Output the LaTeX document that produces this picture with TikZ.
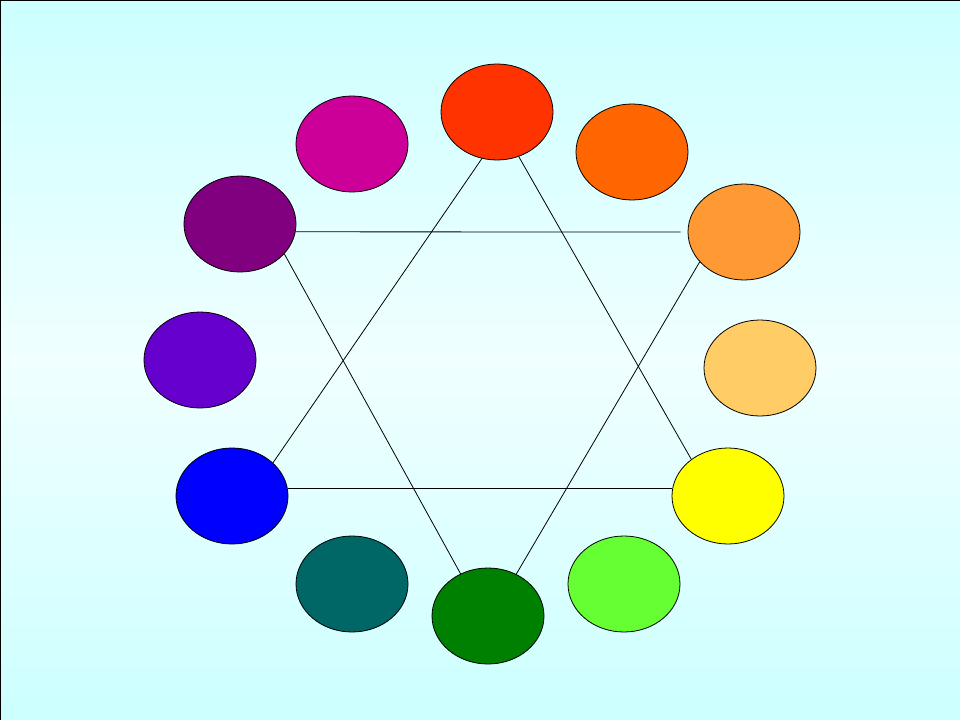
\documentclass[tikz,border=0pt]{standalone}
\usetikzlibrary{shapes.geometric}
\definecolor{bgcyan}{HTML}{CCFFFF}
\definecolor{bgmid}{HTML}{F0FFFF}
\definecolor{cred}{HTML}{FF3300}
\definecolor{corange}{HTML}{FF6600}
\definecolor{clorange}{HTML}{FF9933}
\definecolor{cporange}{HTML}{FFCC66}
\definecolor{cyellow}{HTML}{FFFF00}
\definecolor{clgreen}{HTML}{66FF33}
\definecolor{cdgreen}{HTML}{008000}
\definecolor{cteal}{HTML}{006666}
\definecolor{cblue}{HTML}{0000FF}
\definecolor{cviolet}{HTML}{6600CC}
\definecolor{cpurple}{HTML}{800080}
\definecolor{cmagenta}{HTML}{CC0099}
\begin{document}
\begin{tikzpicture}[x=1bp, y=-1bp,
    hue/.style={ellipse, draw=black, line width=0.8pt, fill=#1,
        minimum width=112bp, minimum height=96bp, inner sep=0pt},
    link/.style={draw=black, line width=0.8pt}]
        \useasboundingbox (0,0) rectangle (960,720);
        % background (y axis is flipped, so the shading colours are swapped)
        \shade[top color=bgcyan, bottom color=bgmid] (-2,-2) rectangle (962,360);
        \shade[top color=bgmid, bottom color=bgcyan] (-2,360) rectangle (962,722);
        \draw[line width=2pt] (0,722) -- (0,0) -- (962,0);
        % colour wheel
        \node[hue=cred] (red) at (497, 112) {};
        \node[hue=corange] (orange) at (632, 152) {};
        \node[hue=clorange] (lorange) at (744, 232) {};
        \node[hue=cporange] (porange) at (760, 368) {};
        \node[hue=cyellow] (yellow) at (728, 496) {};
        \node[hue=clgreen] (lgreen) at (624, 584) {};
        \node[hue=cdgreen] (dgreen) at (488, 616) {};
        \node[hue=cteal] (teal) at (352, 584) {};
        \node[hue=cblue] (blue) at (232, 496) {};
        \node[hue=cviolet] (violet) at (200, 360) {};
        \node[hue=cpurple] (purple) at (240, 224) {};
        \node[hue=cmagenta] (magenta) at (352, 144) {};
        % first triangle
        \draw[link] (red.252) -- (blue.39);
        \draw[link] (red.296) -- (yellow.135);
        \draw[link] (blue.8) -- (yellow.172);
        % second triangle
        \draw[link] (purple.352) -- ([xshift=-7bp]lorange.west);
        \draw[link] (purple.326) -- (dgreen.123);
        \draw[link] (lorange.214) -- (dgreen.56);
    \end{tikzpicture}
\end{document}
